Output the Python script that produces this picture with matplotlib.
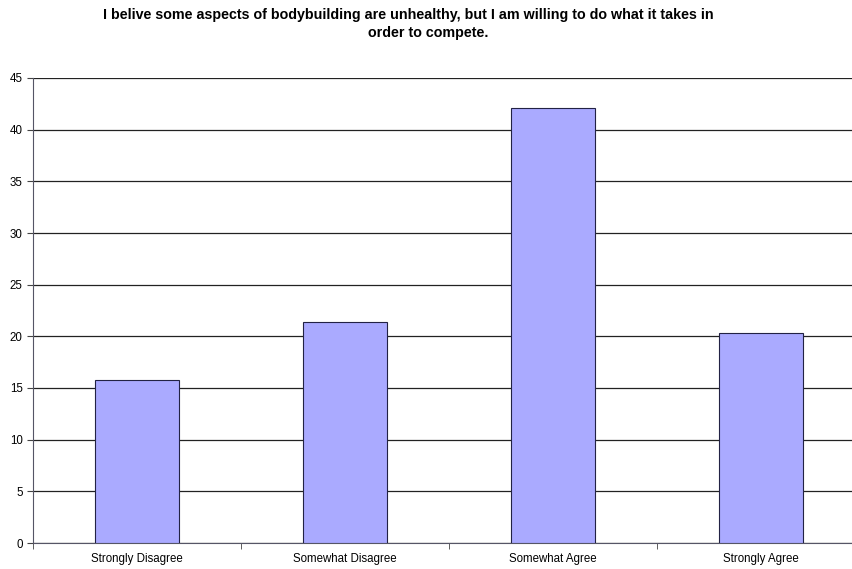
import matplotlib.pyplot as plt
import numpy as np

plt.rcParams['font.family'] = ['Liberation Sans', 'DejaVu Sans']

categories = ['Strongly Disagree', 'Somewhat Disagree', 'Somewhat Agree', 'Strongly Agree']
values = [15.8, 21.4, 42.1, 20.3]
title_lines = ['I belive some aspects of bodybuilding are unhealthy, but I am willing to do what it takes in',
               'order to compete.']

fig = plt.figure(figsize=(8.53, 5.69), dpi=100)
ax = fig.add_axes([33/853, 1-543/569, 832/853, 465/569])

x = np.arange(len(categories))
ax.bar(x, values, width=0.4, color='#AAAAFF', edgecolor='#222244', linewidth=0.8, zorder=3)

ax.set_xlim(-0.5, len(categories) - 0.5)
ax.set_ylim(0, 45)
ax.set_yticks(np.arange(0, 46, 5))
ax.yaxis.grid(True, color='#222222', linewidth=0.9)
ax.set_axisbelow(True)

ax.set_xticks(x)
ax.set_xticklabels(categories, fontsize=8.3)
ax.set_xticks(np.arange(-0.5, len(categories)), minor=True)
ax.tick_params(axis='x', which='major', length=0, pad=7)
ax.tick_params(axis='x', which='minor', length=4, color='#444444')
ax.tick_params(axis='y', labelsize=8.3, length=4, color='#444444')

for s in ['top', 'right']:
    ax.spines[s].set_visible(False)
ax.spines['left'].set_color('#555566')
ax.spines['bottom'].set_color('#555566')

fig.text(408/853, 1-15/569, title_lines[0], ha='center', va='center', fontsize=10.3, fontweight='bold')
fig.text(428/853, 1-33/569, title_lines[1], ha='center', va='center', fontsize=10.3, fontweight='bold')

fig.savefig('out.png', dpi=100)
